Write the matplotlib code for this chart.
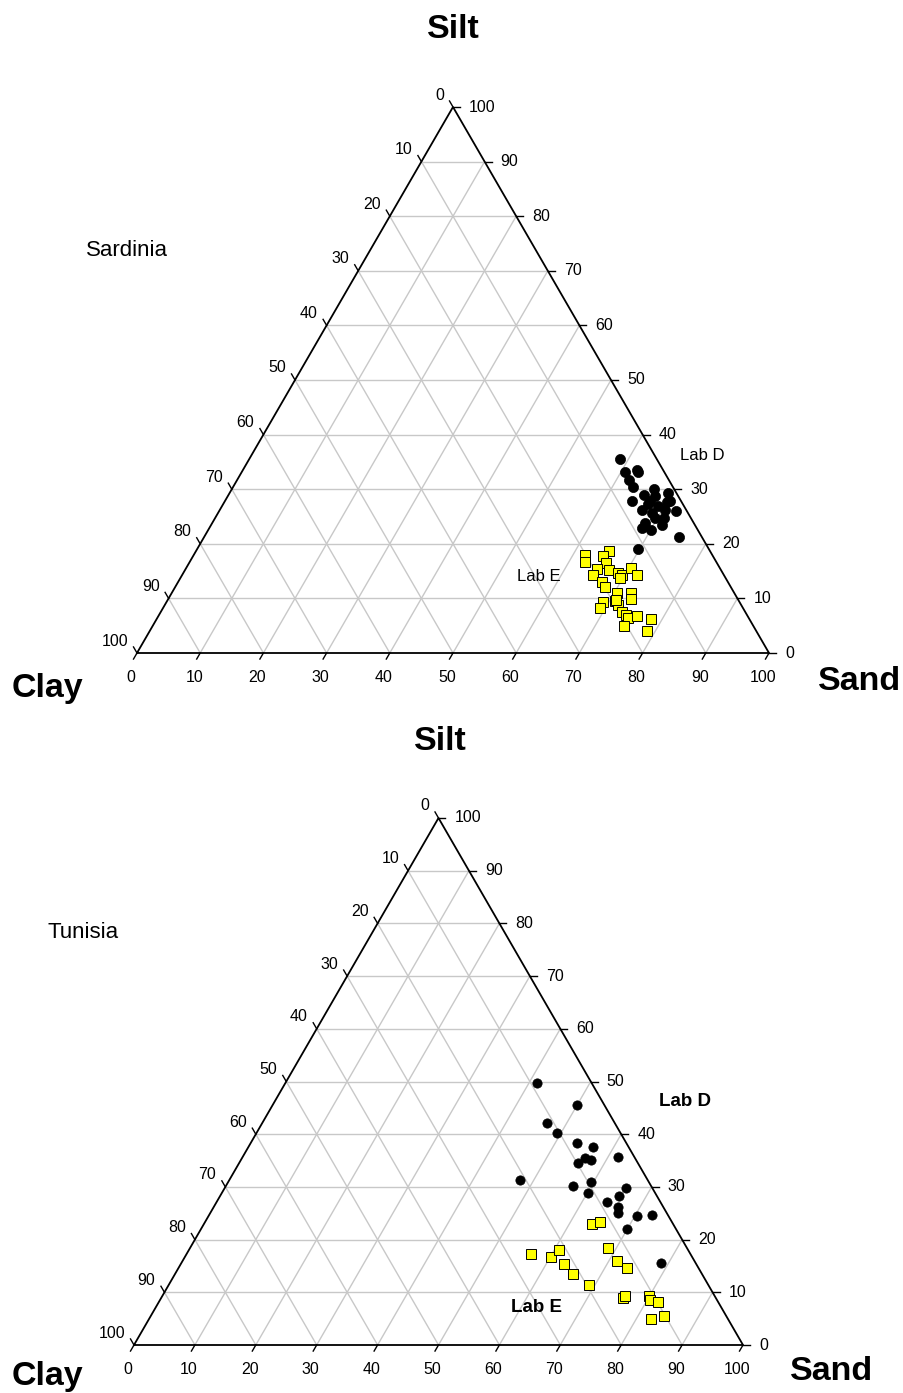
import numpy as np
import matplotlib
matplotlib.use("Agg")
import matplotlib.pyplot as plt

plt.rcParams['font.family'] = ['Liberation Sans', 'DejaVu Sans']

W, H = 904, 1393
fig = plt.figure(figsize=(W / 100, H / 100), dpi=100)

TICKS = list(range(0, 101, 10))
H3 = np.sqrt(3) / 2

# Sardinia, laboratory D (sand %, silt %)
sard_d_sand = [58.7, 60.6, 62.4, 62.7, 62.0, 63.3, 64.4, 65.8, 66.8, 67.6, 69.4, 70.0, 67.2, 66.8,
               69.0, 68.7, 70.4, 72.3, 71.0, 68.5, 69.6, 71.4, 68.4, 70.1, 75.2, 69.8, 67.3, 70.4]
sard_d_silt = [35.5, 33.2, 33.5, 33.2, 31.7, 30.4, 27.8, 28.9, 30.0, 28.8, 29.3, 27.7, 27.3, 26.2,
               26.9, 25.6, 26.2, 26.0, 24.7, 23.8, 24.7, 23.4, 22.9, 22.5, 21.2, 19.0, 27.8, 27.8]

# Sardinia, laboratory E
sard_e_sand = [61.9, 62.5, 65.3, 64.8, 66.0, 65.1, 65.0, 67.1, 68.8, 69.6, 70.4, 72.0, 67.1, 68.0, 70.4,
               72.7, 73.2, 69.1, 69.2, 70.9, 71.7, 73.0, 73.9, 74.5, 74.6, 75.7, 78.2, 78.7, 69.6, 71.0]
sard_e_silt = [17.9, 16.7, 18.7, 17.8, 16.5, 15.4, 14.3, 15.2, 14.7, 14.3, 15.6, 14.3, 13.0, 12.1, 11.0,
               11.0, 9.9, 9.3, 8.2, 9.5, 8.8, 7.5, 7.0, 6.4, 4.9, 6.8, 6.2, 4.0, 13.7, 9.7]

# Tunisia, laboratory D
tun_d_sand = [41.3, 50.0, 46.8, 49.4, 53.6, 56.6, 61.6, 56.3, 57.5, 55.7, 47.7, 57.0,
              59.6, 60.1, 65.9, 65.5, 64.1, 66.4, 67.0, 70.4, 72.7, 70.0, 78.7]
tun_d_silt = [49.7, 45.5, 42.1, 40.2, 38.3, 37.6, 35.7, 35.5, 35.1, 34.5, 31.3, 30.2,
              30.9, 28.8, 29.8, 28.3, 27.1, 26.2, 25.0, 24.5, 24.7, 22.0, 15.6]

# Tunisia, laboratory E
tun_e_sand = [63.7, 64.9, 56.5, 60.1, 60.8, 62.9, 65.3, 69.0, 68.6,
              71.3, 73.7, 75.8, 76.0, 79.9, 80.5, 81.9, 82.5, 84.3]
tun_e_silt = [23.0, 23.3, 17.3, 16.7, 18.0, 15.4, 13.5, 11.4, 18.4,
              15.9, 14.6, 8.9, 9.3, 9.3, 8.5, 8.2, 4.9, 5.5]


def tern(sand, silt):
    """Sand/silt percentages -> cartesian position (Clay bottom-left, Sand bottom-right, Silt top)."""
    s = np.asarray(sand, float) / 100
    t = np.asarray(silt, float) / 100
    return s + t / 2, t * H3


def px(x, y):
    return x / W, 1 - y / H


def panel(left, top, right, bottom, tick_fs):
    ax = fig.add_axes([left / W, 1 - bottom / H, (right - left) / W, (bottom - top) / H])
    ax.set_xlim(0, 1)
    ax.set_ylim(0, H3)
    ax.axis('off')

    grid = dict(color='#c8c8c8', lw=1.0, zorder=1, clip_on=False)
    for k in TICKS[1:-1]:
        f = k / 100
        ax.plot([f / 2, 1 - f / 2], [f * H3, f * H3], **grid)                 # silt
        ax.plot([f, f + (1 - f) / 2], [0, (1 - f) * H3], **grid)               # sand
        ax.plot([1 - f, (1 - f) / 2], [0, (1 - f) * H3], **grid)               # clay

    ax.plot([0, 1, 0.5, 0], [0, 0, H3, 0], color='black', lw=1.3, zorder=3,
            clip_on=False, solid_joinstyle='miter')

    tl = 7.0 / (right - left)
    tk = dict(color='black', lw=1.0, zorder=3, clip_on=False)
    for k in TICKS:
        f = k / 100
        # sand (bottom edge): ticks down-left
        bx, by = f, 0.0
        ax.plot([bx, bx - 0.5 * tl], [by, by - H3 * tl], **tk)
        ax.annotate(str(k), (bx, by), xytext=(-6, -24), textcoords='offset pixels',
                    ha='center', va='center', fontsize=tick_fs)
        # silt (right edge): ticks to the right
        rx, ry = 1 - f / 2, f * H3
        ax.plot([rx, rx + tl], [ry, ry], **tk)
        ax.annotate(str(k), (rx, ry), xytext=(16, 0), textcoords='offset pixels',
                    ha='left', va='center', fontsize=tick_fs)
        # clay (left edge): ticks up-left
        lx, ly = (1 - f) / 2, (1 - f) * H3
        ax.plot([lx, lx - 0.5 * tl], [ly, ly + H3 * tl], **tk)
        ax.annotate(str(k), (lx, ly), xytext=(-9, 12), textcoords='offset pixels',
                    ha='right', va='center', fontsize=tick_fs)
    return ax


# ---- Sardinia ----
ax1 = panel(137, 107, 769, 653, 11.5)
x, y = tern(sard_d_sand, sard_d_silt)
ax1.plot(x, y, 'o', ms=7.3, mfc='black', mec='black', mew=0.5, zorder=5, clip_on=False)
x, y = tern(sard_e_sand, sard_e_silt)
ax1.plot(x, y, 's', ms=7.0, mfc='#ffff00', mec='black', mew=0.7, zorder=6, clip_on=False)

fig.text(*px(453, 30), 'Silt', fontsize=24.5, fontweight='bold', ha='center', va='center')
fig.text(*px(47, 688), 'Clay', fontsize=24.5, fontweight='bold', ha='center', va='center')
fig.text(*px(860, 682), 'Sand', fontsize=24.5, fontweight='bold', ha='center', va='center')
fig.text(*px(86, 250), 'Sardinia', fontsize=16, ha='left', va='center')
fig.text(*px(680, 456), 'Lab D', fontsize=12, ha='left', va='center')
fig.text(*px(517, 576), 'Lab E', fontsize=12, ha='left', va='center')

# ---- Tunisia ----
ax2 = panel(134, 818, 743, 1345, 11.5)
x, y = tern(tun_d_sand, tun_d_silt)
ax2.plot(x, y, 'o', ms=6.7, mfc='black', mec='black', mew=0.5, zorder=5, clip_on=False)
x, y = tern(tun_e_sand, tun_e_silt)
ax2.plot(x, y, 's', ms=6.6, mfc='#ffff00', mec='black', mew=0.7, zorder=6, clip_on=False)

fig.text(*px(440, 742), 'Silt', fontsize=24.5, fontweight='bold', ha='center', va='center')
fig.text(*px(47, 1376), 'Clay', fontsize=24.5, fontweight='bold', ha='center', va='center')
fig.text(*px(832, 1372), 'Sand', fontsize=24.5, fontweight='bold', ha='center', va='center')
fig.text(*px(48, 932), 'Tunisia', fontsize=16, ha='left', va='center')
fig.text(*px(659, 1102), 'Lab D', fontsize=13.5, fontweight='bold', ha='left', va='center')
fig.text(*px(511, 1308), 'Lab E', fontsize=13.5, fontweight='bold', ha='left', va='center')

fig.savefig('out.png', dpi=100, facecolor='white')
